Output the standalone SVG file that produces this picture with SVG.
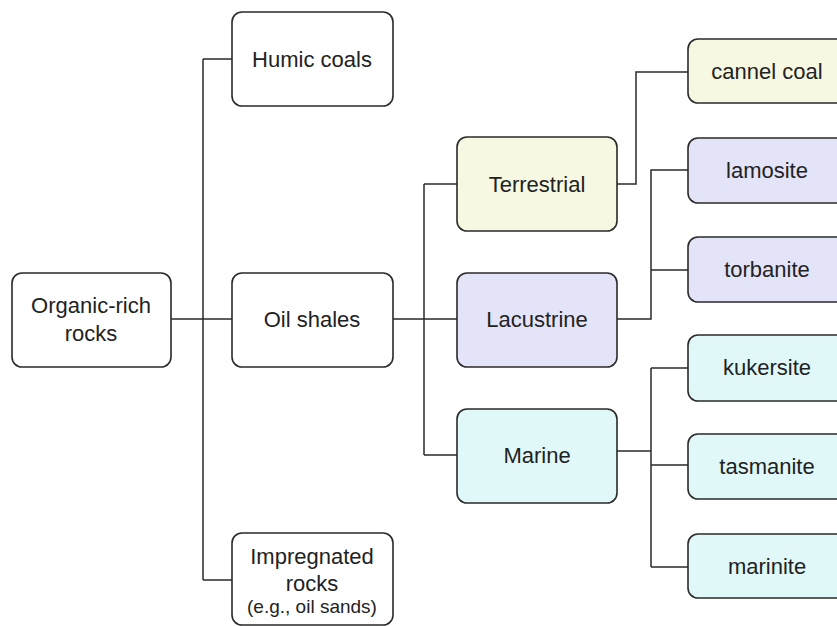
<svg xmlns="http://www.w3.org/2000/svg" width="837" height="626" viewBox="0 0 837 626">
<style>
.box{stroke:#2a2a2a;stroke-width:1.6}
.w{fill:#ffffff}
.y{fill:#f6f8e2}
.l{fill:#e4e4f9}
.c{fill:#e0f8f8}
text{font-family:"Liberation Sans",Arial,sans-serif;font-size:22px;fill:#222;text-anchor:middle}
.sm{font-size:19px}
.conn{fill:none;stroke:#2a2a2a;stroke-width:1.5}
</style>
<rect width="837" height="626" fill="#ffffff"/>
<g id="connectors">
<path class="conn" d="M171,319 H232 M203,59 V580 M203,59 H232 M203,580 H232"/>
<path class="conn" d="M393,319 H457 M424,184 V455 M424,184 H457 M424,455 H457"/>
<path class="conn" d="M617,184 H636 V72 H688"/>
<path class="conn" d="M617,319 H651 V170 H688 M651,270 H688"/>
<path class="conn" d="M617,451 H651 M651,368 V567 M651,368 H688 M651,465 H688 M651,567 H688"/>
</g>
<g id="organic"><rect class="box w" x="12" y="273" width="159" height="94" rx="10"/><text x="91" y="313">Organic-rich</text><text x="91" y="341">rocks</text></g>
<g id="humic"><rect class="box w" x="232" y="12" width="161" height="94" rx="10"/><text x="312" y="67">Humic coals</text></g>
<g id="oilshales"><rect class="box w" x="232" y="273" width="161" height="94" rx="10"/><text x="312" y="327">Oil shales</text></g>
<g id="impregnated"><rect class="box w" x="232" y="533" width="161" height="92" rx="10"/><text x="312" y="564">Impregnated</text><text x="312" y="591">rocks</text><text class="sm" x="312" y="613">(e.g., oil sands)</text></g>
<g id="terrestrial"><rect class="box y" x="457" y="137" width="160" height="94" rx="10"/><text x="537" y="192">Terrestrial</text></g>
<g id="lacustrine"><rect class="box l" x="457" y="273" width="160" height="94" rx="10"/><text x="537" y="327">Lacustrine</text></g>
<g id="marine"><rect class="box c" x="457" y="409" width="160" height="94" rx="10"/><text x="537" y="463">Marine</text></g>
<g id="cannel"><rect class="box y" x="688" y="39" width="160" height="64" rx="10"/><text x="767" y="79">cannel coal</text></g>
<g id="lamosite"><rect class="box l" x="688" y="138" width="160" height="65" rx="10"/><text x="767" y="178">lamosite</text></g>
<g id="torbanite"><rect class="box l" x="688" y="237" width="160" height="65" rx="10"/><text x="767" y="277">torbanite</text></g>
<g id="kukersite"><rect class="box c" x="688" y="335" width="160" height="66" rx="10"/><text x="767" y="375">kukersite</text></g>
<g id="tasmanite"><rect class="box c" x="688" y="434" width="160" height="65" rx="10"/><text x="767" y="474">tasmanite</text></g>
<g id="marinite"><rect class="box c" x="688" y="534" width="160" height="64" rx="10"/><text x="767" y="574">marinite</text></g>
</svg>
